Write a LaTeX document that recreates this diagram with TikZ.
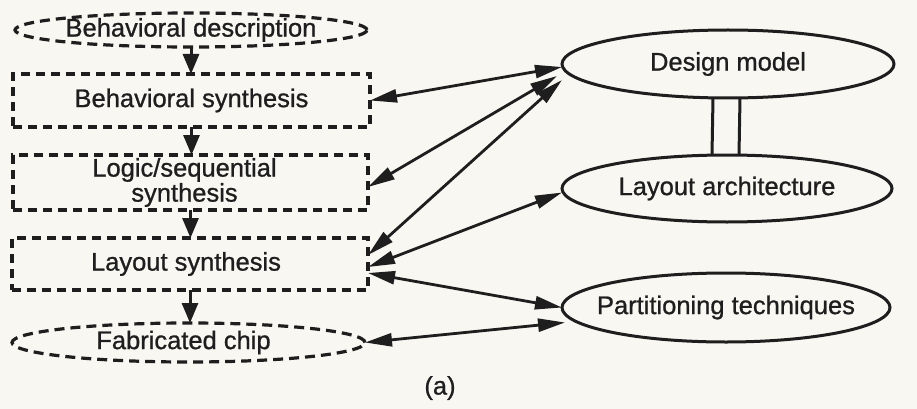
\documentclass[tikz,border=0pt]{standalone}
\usepackage{fontspec}
\setmainfont{Liberation Sans}
\newfontfamily\diagfont[FakeBold=0.9]{Liberation Sans}
\usetikzlibrary{arrows.meta,shapes.geometric}
\definecolor{paper}{HTML}{F8F7F2}
\definecolor{ink}{HTML}{1E1E1E}
\begin{document}
\begin{tikzpicture}[x=1pt,y=-1pt,
  lbl/.style={font=\diagfont\fontsize{25.5}{25}\selectfont, text=ink, inner sep=0pt, outer sep=0pt, align=center},
  dbox/.style={rectangle, draw=ink, line width=3.4pt, dash pattern=on 9pt off 6pt, inner sep=0pt, outer sep=0pt},
  dell/.style={ellipse, draw=ink, line width=3.2pt, dash pattern=on 10pt off 6pt, inner sep=0pt, outer sep=0pt},
  sell/.style={ellipse, draw=ink, line width=3pt, inner sep=0pt, outer sep=0pt, minimum width=332pt, minimum height=68pt},
  flow/.style={draw=ink, line width=3pt, -{Triangle[length=20pt,width=16pt]}},
  link/.style={draw=ink, line width=2.8pt, {Triangle[length=27pt,width=13pt]}-{Triangle[length=27pt,width=13pt]}},
  bar/.style={draw=ink, line width=3pt}
]
\useasboundingbox (0,0) rectangle (917,409);
\fill[paper] (0,0) rectangle (917,409);

% left column
\node[dell, minimum width=352pt, minimum height=34pt] (bd) at (191,30) {};
\node[lbl] at (bd) {Behavioral description};
\node[dbox, minimum width=357pt, minimum height=53pt] (bs) at (191.5,100.5) {};
\node[lbl] at (bs) {Behavioral synthesis};
\node[dbox, minimum width=355pt, minimum height=55pt] (ls) at (190.5,182.5) {};
\node[lbl] at ([xshift=-6pt]ls.center) {Logic/sequential\\synthesis};
\node[dbox, minimum width=356pt, minimum height=52pt] (lay) at (190,264) {};
\node[lbl] at ([xshift=-4pt]lay.center) {Layout synthesis};
\node[dell, minimum width=353pt, minimum height=39pt] (fc) at (188.5,342.5) {};
\node[lbl] at ([xshift=-5pt]fc.center) {Fabricated chip};

% right column
\node[sell] (dm) at (728,64) {};
\node[lbl] at (dm) {Design model};
\node[sell, minimum width=330pt, minimum height=67pt] (la) at (727,188.5) {};
\node[lbl] at (la) {Layout architecture};
\node[sell, minimum width=328pt, minimum height=69pt] (pt) at (726,307.5) {};
\node[lbl] at (pt) {Partitioning techniques};

\node[lbl] (cap) at (440,388) {(a)};

% flow arrows
\draw[flow] (bd.south) -- (bd.south |- bs.north);
\draw[flow] (bs.south) -- (bs.south |- ls.north);
\draw[flow] (ls.south) -- (ls.south |- lay.north);
\draw[flow] (lay.south) -- (lay.south |- fc.north);

% double link between design model and layout architecture
\draw[bar] ([xshift=-15pt]dm.south) -- ([xshift=-15pt]la.north);
\draw[bar] ([xshift=12pt]dm.south) -- ([xshift=12pt]la.north);

% bidirectional links
\draw[link] (bs.east) -- ([yshift=-3pt]dm.west);
\draw[link] ([yshift=-4.5pt]ls.east) -- ([xshift=-5pt,yshift=-12pt]dm.west);
\draw[link] ([yshift=9pt]lay.east) -- ([yshift=-16pt]dm.west);
\draw[link] ([yshift=-3pt]lay.east) -- ([yshift=-4pt]la.west);
\draw[link] ([yshift=-9pt]lay.east) -- (pt.west);
\draw[link] (fc.east) -- ([xshift=3pt,yshift=-15pt]pt.west);
\end{tikzpicture}
\end{document}
